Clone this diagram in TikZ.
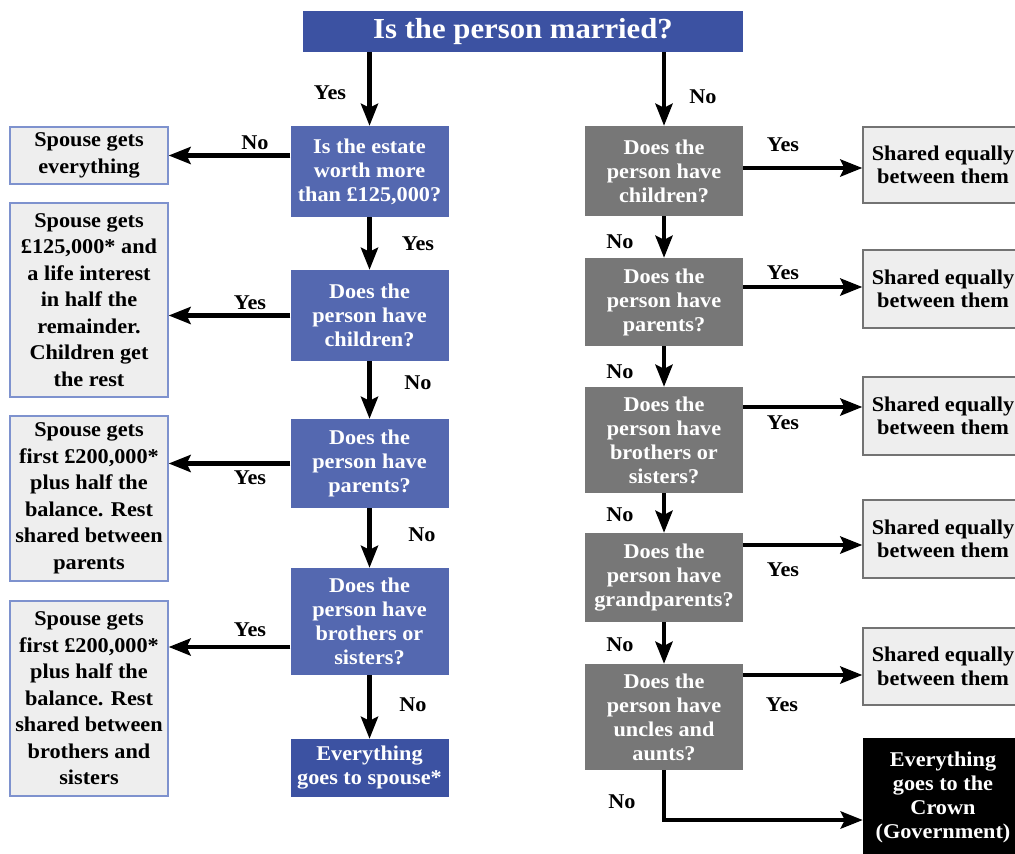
\documentclass[tikz,border=0pt]{standalone}
\usepackage{fontspec}
\setmainfont[FakeStretch=1.06]{Liberation Serif}
\usetikzlibrary{arrows.meta}
\definecolor{qblue}{RGB}{84,104,176}
\definecolor{dblue}{RGB}{60,82,162}
\definecolor{qgrey}{RGB}{119,119,119}
\definecolor{afill}{RGB}{238,238,238}
\definecolor{bline}{RGB}{126,146,206}
\definecolor{gline}{RGB}{115,115,115}
\begin{document}
\begin{tikzpicture}[x=1pt, y=-1pt, font=\fontsize{21}{24}\selectfont\bfseries, line join=miter,
	box/.style={align=center, inner sep=0pt, minimum width=158},
	qb/.style={box, fill=qblue, text=white},
	qg/.style={box, fill=qgrey, text=white},
	lb/.style={box, fill=afill, draw=bline, line width=1.2pt, font=\fontsize{21}{26.5}\selectfont\bfseries},
	rb/.style={box, fill=afill, draw=gline, line width=1.2pt, minimum width=160, font=\fontsize{21}{23.5}\selectfont\bfseries},
	arr/.style={line width=4.4pt, -{Stealth[length=22pt,width=17pt,inset=4pt]}},
	lbl/.style={inner sep=0pt}]
	\useasboundingbox (0,0) rectangle (1015,854);
	\clip (0,0) rectangle (1015,854);
	% title
	\node[box, fill=dblue, text=white, minimum width=440, minimum height=41, font=\fontsize{29}{32}\selectfont\bfseries] (married) at (523,31.5) {Is the person married?};
	% married: left column
	\node[qb, minimum height=91] (estate) at (369.5,171.5) {Is the estate\\worth more\\than £125,000?};
	\node[qb, minimum height=91] (children) at (369.5,315.5) {Does the\\person have\\children?};
	\node[qb, minimum height=89] (parents) at (369.5,463.5) {Does the\\person have\\parents?};
	\node[qb, minimum height=107] (siblings) at (369.5,621.5) {Does the\\person have\\brothers or\\sisters?};
	\node[qb, fill=dblue, minimum height=58] (spouse) at (369.5,768) {Everything\\goes to spouse*};
	\node[lb, minimum height=57] (all) at (89,155.5) {Spouse gets\\everything};
	\node[lb, minimum height=194] (lifeint) at (89,300) {Spouse gets\\£125,000* and\\a life interest\\in half the\\remainder.\\Children get\\the rest};
	\node[lb, minimum height=165] (halfpar) at (89,498.5) {Spouse gets\\first £200,000*\\plus half the\\balance. Rest\\shared between\\parents};
	\node[lb, minimum height=195] (halfsib) at (89,698.5) {Spouse gets\\first £200,000*\\plus half the\\balance. Rest\\shared between\\brothers and\\sisters};
	% not married: right column
	\node[qg, minimum height=90] (rchildren) at (664,171) {Does the\\person have\\children?};
	\node[qg, minimum height=88] (rparents) at (664,302) {Does the\\person have\\parents?};
	\node[qg, minimum height=106] (rsiblings) at (664,440) {Does the\\person have\\brothers or\\sisters?};
	\node[qg, minimum height=89] (grand) at (664,577.5) {Does the\\person have\\grandparents?};
	\node[qg, minimum height=106] (uncles) at (664,717) {Does the\\person have\\uncles and\\aunts?};
	\foreach \i/\y/\h in {1/165/76, 2/289/78, 3/416/78, 4/539/78, 5/666.5/77}
		\node[rb, minimum height=\h] (s\i) at (943,\y) {Shared equally\\between them};
	\node[box, fill=black, text=white, minimum width=160, minimum height=118] (crown) at (943,797) {Everything\\goes to the\\Crown\\(Government)};
	% connectors
	\draw[arr] (estate.north |- married.south) -- (estate.north);
	\draw[arr] (rchildren.north |- married.south) -- (rchildren.north);
	\draw[arr] (estate.south) -- (children.north);
	\draw[arr] (children.south) -- (parents.north);
	\draw[arr] (parents.south) -- (siblings.north);
	\draw[arr] (siblings.south) -- (spouse.north);
	\draw[arr] (estate.west |- all.east) -- (all.east);
	\draw[arr] (children.west) -- (children.west -| lifeint.east);
	\draw[arr] (parents.west) -- (parents.west -| halfpar.east);
	\draw[arr] ([yshift=-25.5pt]siblings.west) -- ([yshift=-25.5pt]siblings.west -| halfsib.east);
	\draw[arr] (rchildren.south) -- (rparents.north);
	\draw[arr] (rparents.south) -- (rsiblings.north);
	\draw[arr] (rsiblings.south) -- (grand.north);
	\draw[arr] (grand.south) -- (uncles.north);
	\draw[arr] ([yshift=3pt]rchildren.east) -- ([yshift=3pt]rchildren.east -| s1.west);
	\draw[arr] ([yshift=15pt]rparents.east) -- ([yshift=15pt]rparents.east -| s2.west);
	\draw[arr] ([yshift=33pt]rsiblings.east) -- ([yshift=33pt]rsiblings.east -| s3.west);
	\draw[arr] ([yshift=32.5pt]grand.east) -- ([yshift=32.5pt]grand.east -| s4.west);
	\draw[arr] ([yshift=42pt]uncles.east) -- ([yshift=42pt]uncles.east -| s5.west);
	\draw[arr] (uncles.south) |- ([yshift=-23pt]crown.west);
	% answers
	\foreach \n/\x/\y/\t in {ya/330/93/Yes, yb/418/244/Yes, nc/418/383/No, nd/422/535/No, ne/413/705/No,
		nf/255/143/No, yg/250/303/Yes, yh/250/478/Yes, yi/250/630/Yes,
		na/703/97/No, nb/620/242/No, ncc/620/372/No, ndd/620/515/No, nee/620/645/No, nff/622/802/No,
		ra/783/145/Yes, rb/783/273/Yes, rc/783/423/Yes, rd/783/570/Yes, re/782/705/Yes}
		\node[lbl] (\n) at (\x,\y) {\t};
\end{tikzpicture}
\end{document}
